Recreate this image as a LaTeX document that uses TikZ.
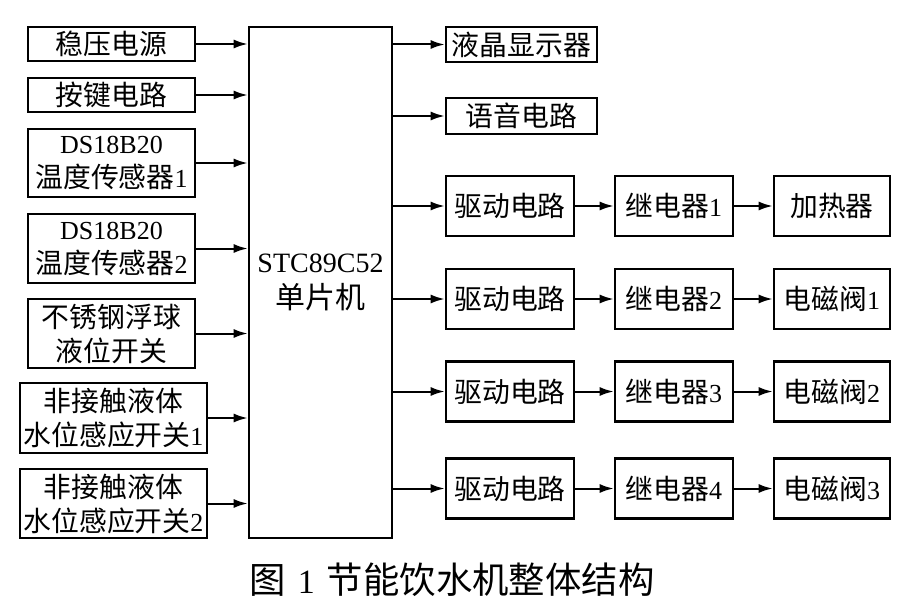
\documentclass[tikz,border=0pt]{standalone}
\usepackage{fontspec}
\setmainfont{Liberation Serif}
\newfontfamily\cjk[Scale=1.07]{Noto Sans CJK SC}
\usetikzlibrary{arrows.meta}

\begin{document}
\begin{tikzpicture}[x=1pt, y=-1pt,
	block/.style={draw, line width=2.6pt, rectangle, inner sep=0pt, align=center,
		font=\fontsize{26}{34}\selectfont},
	link/.style={line width=2pt, -{Latex[length=14pt,width=9pt]}}]

	\useasboundingbox (0,0) rectangle (918,610);

	% draw input blocks
	\node[block, minimum width=167, minimum height=34] (pw) at (111.5,44) {{\cjk 稳压电源}};
	\node[block, minimum width=167, minimum height=34] (key) at (111.5,95) {{\cjk 按键电路}};
	\node[block, minimum width=167, minimum height=68] (t1) at (111.5,163) {DS18B20\\{\cjk 温度传感器}1};
	\node[block, minimum width=167, minimum height=69] (t2) at (111.5,248.5) {DS18B20\\{\cjk 温度传感器}2};
	\node[block, minimum width=167, minimum height=69] (fl) at (111.5,333.5) {{\cjk 不锈钢浮球}\\{\cjk 液位开关}};
	\node[block, minimum width=187, minimum height=70] (nc1) at (113.5,418) {{\cjk 非接触液体}\\{\cjk 水位感应开关}1};
	\node[block, minimum width=187, minimum height=69] (nc2) at (113.5,503.5) {{\cjk 非接触液体}\\{\cjk 水位感应开关}2};

	% draw controller
	\node[block, minimum width=143, minimum height=511, font=\fontsize{28}{36}\selectfont] (mcu) at (320.5,282.5) {STC89C52\\{\cjk 单片机}};

	% draw output blocks
	\node[block, minimum width=151, minimum height=35] (lcd) at (521.5,44.5) {{\cjk 液晶显示器}};
	\node[block, minimum width=151, minimum height=36] (voice) at (521.5,116) {{\cjk 语音电路}};
	\foreach \s/\y/\r/\l in {1/206/{{\cjk 继电器}1}/{{\cjk 加热器}},
		2/299/{{\cjk 继电器}2}/{{\cjk 电磁阀}1},
		3/391.5/{{\cjk 继电器}3}/{{\cjk 电磁阀}2},
		4/488.5/{{\cjk 继电器}4}/{{\cjk 电磁阀}3}}
	{
		\node[block, minimum width=128, minimum height=60] (d_\s) at (510,\y) {{\cjk 驱动电路}};
		\node[block, minimum width=118, minimum height=60] (r_\s) at (674,\y) {\r};
		\node[block, minimum width=116, minimum height=60] (l_\s) at (832,\y) {\l};
		\draw[link] (mcu.east |- d_\s.west) -- (d_\s.west);
		\draw[link] (d_\s) -- (r_\s);
		\draw[link] (r_\s) -- (l_\s);
	}

	% draw edges
	\foreach \n in {pw,key,t1,t2,fl,nc1,nc2}
	{
		\draw[link] (\n.east) -- (\n.east -| mcu.west);
	}
	\draw[link] (mcu.east |- lcd.west) -- (lcd.west);
	\draw[link] (mcu.east |- voice.west) -- (voice.west);

	% caption
	\node[font=\fontsize{34}{40}\selectfont] (cap) at (452,580) {{\cjk 图}\hspace{12pt}1\hspace{12pt}{\cjk 节能饮水机整体结构}};

\end{tikzpicture}
\end{document}
